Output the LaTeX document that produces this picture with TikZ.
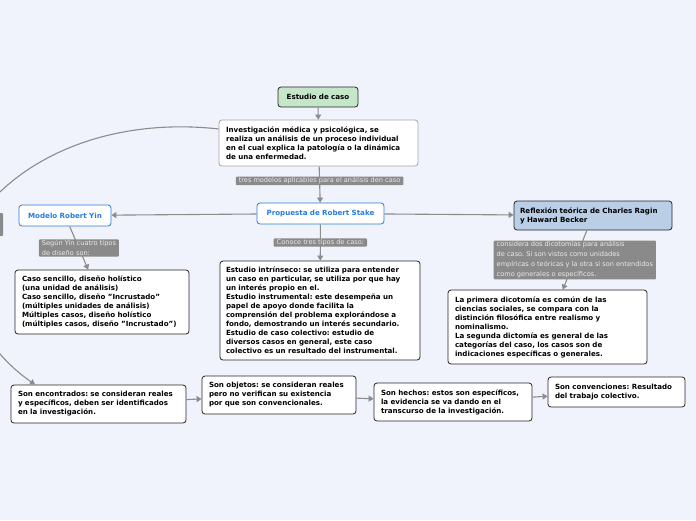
\documentclass[tikz,border=0pt]{standalone}
\usepackage{fontspec}
\setmainfont{DejaVu Sans}
\usetikzlibrary{arrows.meta}

\definecolor{mapbg}{RGB}{241,243,252}
\definecolor{linkgray}{RGB}{140,140,140}
\definecolor{tagfill}{RGB}{138,138,138}
\definecolor{tagtext}{RGB}{235,235,235}
\definecolor{rootgreen}{RGB}{198,230,201}
\definecolor{stakeblue}{RGB}{38,124,222}
\definecolor{raginblue}{RGB}{186,206,230}

\frenchspacing

\begin{document}
\begin{tikzpicture}[
    x=1pt, y=-1pt,
    card/.style={rectangle, draw=black!85, line width=0.8pt, fill=white, rounded corners=3pt, inner xsep=7pt, inner ysep=0pt, align=left, font=\bfseries\fontsize{7.1}{9}\selectfont},
    model/.style={card, draw=stakeblue, text=stakeblue, align=center},
    tag/.style={rectangle, fill=tagfill, text=tagtext, rounded corners=1pt, inner xsep=3pt, inner ysep=1pt, align=left, font=\fontsize{6.6}{10}\selectfont},
    arrow/.style={-{Triangle[length=5pt,width=6pt]}, draw=linkgray, line width=1.1pt},
    link/.style={draw=linkgray, line width=1.1pt}
]

% Background
\path[use as bounding box, fill=mapbg] (0,0) rectangle (696,520);

% Root and description
\node[card, fill=rootgreen, align=center, minimum width=80pt, minimum height=20pt, text width=66pt] (root) at (318,97) {Estudio de caso};
\node[card, draw=black!35, minimum width=199pt, minimum height=46pt, text width=185pt] (inv) at (318.5,143) {Investigación médica y psicológica, se\\realiza un análisis de un proceso individual\\en el cual explica la patología o la dinámica\\de una enfermedad.};

% Three models
\node[model, minimum width=127pt, minimum height=21pt, text width=113pt] (stake) at (320.5,213.5) {Propuesta de Robert Stake};
\node[model, minimum width=92pt, minimum height=21pt, text width=78pt] (yin) at (65,215.5) {Modelo Robert Yin};
\node[card, fill=raginblue, minimum width=158pt, minimum height=29pt, text width=146pt, inner xsep=6pt] (ragin) at (593,215.5) {Reflexión teórica de Charles Ragin\\y Haward Becker};

% Details
\node[card, minimum width=174pt, minimum height=64pt, text width=160pt] (yintypes) at (102,302) {Caso sencillo, diseño holístico\\(una unidad de análisis)\\Caso sencillo, diseño "Incrustado"\\(múltiples unidades de análisis)\\Múltiples casos, diseño holístico\\(múltiples casos, diseño "Incrustado")};
\node[card, minimum width=200pt, minimum height=99pt, text width=188pt, inner xsep=6pt] (staketypes) at (320,310.5) {Estudio intrínseco: se utiliza para entender\\un caso en particular, se utiliza por que hay\\un interés propio en el.\\Estudio instrumental: este desempeña un\\papel de apoyo donde facilita la\\comprensión del problema explorándose a\\fondo, demostrando un interés secundario.\\Estudio de caso colectivo: estudio de\\diversos casos en general, este caso\\colectivo es un resultado del instrumental.};
\node[card, minimum width=199pt, minimum height=74pt, text width=185pt] (dicot) at (547.5,327) {La primera dicotomía es común de las\\ciencias sociales, se compara con la\\distinción filosófica entre realismo y\\nominalismo.\\La segunda dictomía es general de las\\categorías del caso, los casos son de\\indicaciones específicas o generales.};

% Bottom row
\node[card, minimum width=175pt, minimum height=38pt, text width=161pt] (found) at (98.5,404) {Son encontrados: se consideran reales\\y específicos, deben ser identificados\\en la investigación.};
\node[card, minimum width=154pt, minimum height=38pt, text width=140pt] (objects) at (279,395) {Son objetos: se consideran reales\\pero no verifican su existencia\\por que son convencionales.};
\node[card, minimum width=158pt, minimum height=38pt, text width=144pt] (facts) at (453,402) {Son hechos: estos son específicos,\\la evidencia se va dando en el\\transcurso de la investigación.};
\node[card, minimum width=137pt, minimum height=30pt, text width=123pt] (conv) at (616.5,392) {Son convenciones: Resultado\\del trabajo colectivo.};

% Label of the long curve (cut by the edge)
\node[tag, minimum width=62pt, minimum height=23pt] (curvetag) at (-28,224.5) {};

% Arrows
\draw[arrow] (root) -- (inv);
\draw[arrow] (inv) -- node[tag, pos=0.4] {tres modelos aplicables para el análisis den caso} (stake);
\draw[arrow] (stake) -- (yin);
\draw[arrow] (stake) -- (ragin);
\draw[arrow] (yin) -- node[tag] {Según Yin cuatro tipos\\de diseño son:} (yintypes);
\draw[arrow] (stake) -- node[tag] {Conoce tres tipos de caso:} (staketypes);
\draw[arrow] (ragin) -- node[tag] {considera dos dicotomías para análisis\\de caso. Si son vistos como unidades\\empíricas o teóricas y la otra si son entendidos\\como generales o específicos.} (dicot);

% Long curve
\draw[link] (inv.172) .. controls (120,118) and (30,150) .. (curvetag);
\draw[arrow] (curvetag) .. controls (-40,320) and (0,360) .. (found.163);

% Bottom chain
\draw[arrow] (found) -- (objects);
\draw[arrow] (objects) -- (facts);
\draw[arrow] (facts) -- (conv);

\end{tikzpicture}
\end{document}
